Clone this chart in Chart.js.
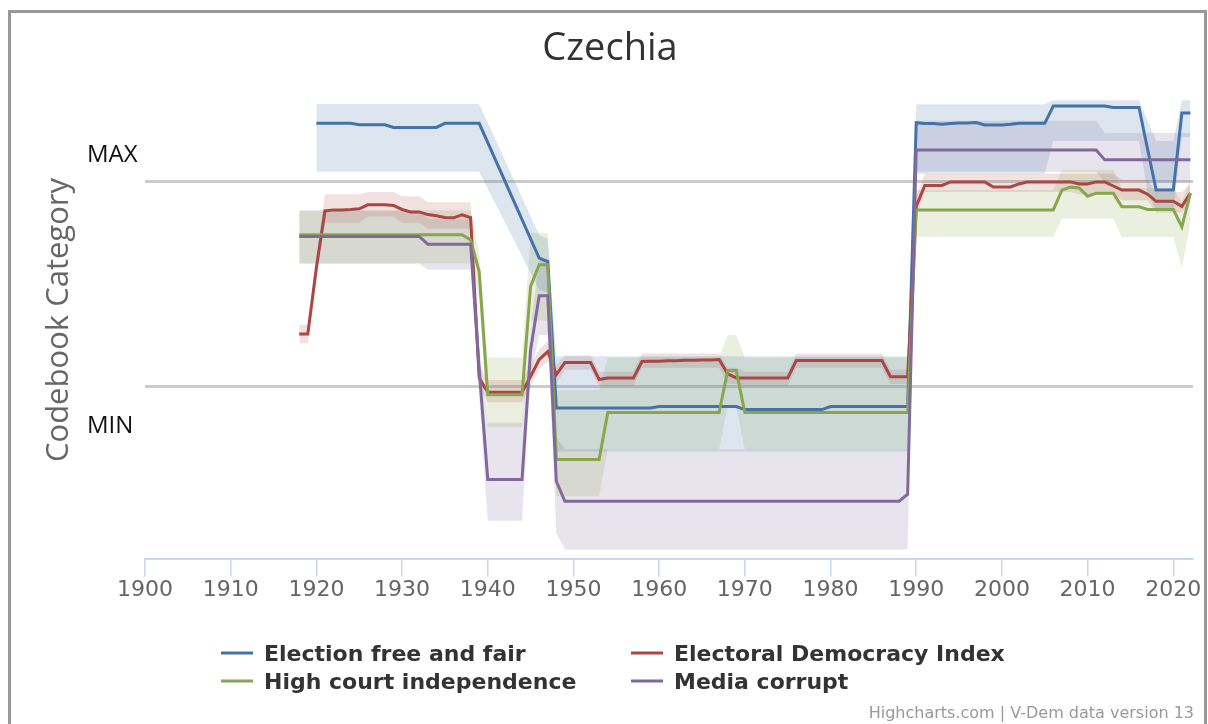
<!DOCTYPE html>
<html>
<head>
<meta charset="utf-8">
<script src="https://cdn.jsdelivr.net/npm/chart.js@4/dist/chart.umd.min.js"></script>
<style>
  html, body { margin: 0; padding: 0; background: #fff; }
  #wrap  { position: relative; width: 1208px; height: 724px; overflow: hidden; }
  #frame { position: absolute; left: 8px; top: 10px; width: 1193px; height: 800px;
           border: 3px solid #999; pointer-events: none; }
</style>
</head>
<body>
<div id="wrap">
  <canvas id="chart"></canvas>
  <div id="frame"></div>
</div>
<script>
// Czechia – V-Dem indicators on a MIN(0) .. MAX(1) codebook scale

const titleText  = "Czechia";
const yTitleText = "Codebook Category";
const creditText = "Highcharts.com | V-Dem data version 13";
const xTicks     = [1900, 1910, 1920, 1930, 1940, 1950, 1960, 1970, 1980, 1990, 2000, 2010, 2020];

const seriesNames  = ["Election free and fair", "Electoral Democracy Index", "High court independence", "Media corrupt"];
const seriesColors = ["#4572A7", "#AA4643", "#89A54E", "#80699B"];
const bandColors   = ["rgba(69,114,167,0.18)", "rgba(170,70,67,0.16)", "rgba(137,165,78,0.18)", "rgba(128,105,155,0.18)"];

// one value per year, 1918 .. 2022
const years = [];
for (let y = 1918; y <= 2022; y++) years.push(y);

const electionFree = [
  null, null,
  1.287, 1.287, 1.287, 1.287, 1.287, 1.280, 1.280, 1.280, 1.280, 1.267,
  1.267, 1.267, 1.267, 1.267, 1.267, 1.287, 1.287, 1.287, 1.287, 1.287,
  null, null, null, null, null, null, 0.627, 0.610, -0.107, -0.107,
  -0.107, -0.107, -0.107, -0.107, -0.107, -0.107, -0.107, -0.107, -0.107, -0.107,
  -0.100, -0.100, -0.100, -0.100, -0.100, -0.100, -0.100, -0.100, -0.100, -0.100,
  -0.115, -0.115, -0.115, -0.115, -0.115, -0.115, -0.115, -0.115, -0.115, -0.115,
  -0.100, -0.100, -0.100, -0.100, -0.100, -0.100, -0.100, -0.100, -0.100, -0.100,
  1.290, 1.286, 1.286, 1.282, 1.286, 1.288, 1.288, 1.291, 1.279, 1.279,
  1.279, 1.282, 1.287, 1.287, 1.287, 1.287, 1.372, 1.372, 1.372, 1.372,
  1.372, 1.372, 1.372, 1.365, 1.365, 1.365, 1.365, 1.160, 0.961, 0.961,
  0.961, 1.337, 1.337
];
const electionFreeHigh = [
  null, null,
  1.382, 1.382, 1.382, 1.382, 1.382, 1.382, 1.382, 1.382, 1.382, 1.382,
  1.382, 1.382, 1.382, 1.382, 1.382, 1.382, 1.382, 1.382, 1.382, 1.382,
  null, null, null, null, null, null, 0.74, 0.72, 0.146, 0.146,
  0.146, 0.146, 0.146, 0.146, 0.146, 0.146, 0.146, 0.146, 0.146, 0.146,
  0.146, 0.146, 0.146, 0.146, 0.146, 0.146, 0.146, 0.146, 0.146, 0.146,
  0.146, 0.146, 0.146, 0.146, 0.146, 0.146, 0.146, 0.146, 0.146, 0.146,
  0.146, 0.146, 0.146, 0.146, 0.146, 0.146, 0.146, 0.146, 0.146, 0.146,
  1.38, 1.38, 1.38, 1.38, 1.38, 1.38, 1.38, 1.38, 1.38, 1.38,
  1.38, 1.38, 1.38, 1.38, 1.38, 1.38, 1.40, 1.40, 1.40, 1.40,
  1.40, 1.40, 1.40, 1.40, 1.40, 1.40, 1.40, 1.30, 1.20, 1.20,
  1.20, 1.40, 1.40
];
const electionFreeLow = [
  null, null,
  1.05, 1.05, 1.05, 1.05, 1.05, 1.05, 1.05, 1.05, 1.05, 1.05,
  1.05, 1.05, 1.05, 1.05, 1.05, 1.05, 1.05, 1.05, 1.05, 1.05,
  null, null, null, null, null, null, 0.47, 0.46, -0.32, -0.32,
  -0.32, -0.32, -0.32, -0.32, -0.32, -0.32, -0.32, -0.32, -0.32, -0.32,
  -0.32, -0.32, -0.32, -0.32, -0.32, -0.32, -0.32, -0.32, -0.32, -0.32,
  -0.32, -0.32, -0.32, -0.32, -0.32, -0.32, -0.32, -0.32, -0.32, -0.32,
  -0.32, -0.32, -0.32, -0.32, -0.32, -0.32, -0.32, -0.32, -0.32, -0.32,
  1.04, 1.04, 1.04, 1.04, 1.04, 1.04, 1.04, 1.04, 1.04, 1.04,
  1.04, 1.04, 1.04, 1.04, 1.04, 1.04, 1.20, 1.20, 1.20, 1.20,
  1.20, 1.20, 1.20, 1.20, 1.20, 1.20, 1.20, 0.95, 0.86, 0.86,
  0.86, 1.22, 1.22
];

const electoralDemocracy = [
  0.255, 0.255,
  0.580, 0.858, 0.863, 0.863, 0.865, 0.868, 0.888, 0.888, 0.888, 0.885,
  0.865, 0.853, 0.853, 0.840, 0.834, 0.826, 0.824, 0.839, 0.825, 0.040,
  -0.030, -0.030, -0.030, -0.030, -0.030, 0.047, 0.130, 0.169, 0.056, 0.115,
  0.115, 0.115, 0.115, 0.032, 0.040, 0.040, 0.040, 0.040, 0.120, 0.122,
  0.122, 0.124, 0.124, 0.126, 0.126, 0.128, 0.128, 0.130, 0.060, 0.040,
  0.039, 0.039, 0.039, 0.039, 0.039, 0.039, 0.125, 0.125, 0.125, 0.125,
  0.125, 0.125, 0.125, 0.125, 0.125, 0.125, 0.125, 0.046, 0.046, 0.046,
  0.880, 0.983, 0.983, 0.983, 1.000, 1.000, 1.000, 1.000, 1.000, 0.975,
  0.975, 0.975, 0.990, 1.000, 1.000, 1.000, 1.000, 1.000, 1.000, 0.990,
  0.990, 1.000, 1.000, 0.980, 0.960, 0.960, 0.960, 0.940, 0.905, 0.905,
  0.905, 0.880, 0.945
];
const electoralDemocracyHigh = [
  0.30, 0.30,
  0.64, 0.94, 0.94, 0.94, 0.94, 0.94, 0.95, 0.95, 0.95, 0.95,
  0.93, 0.93, 0.93, 0.90, 0.90, 0.90, 0.90, 0.90, 0.90, 0.10,
  0.03, 0.03, 0.03, 0.03, 0.03, 0.10, 0.18, 0.22, 0.10, 0.15,
  0.15, 0.15, 0.15, 0.07, 0.07, 0.07, 0.07, 0.07, 0.16, 0.16,
  0.16, 0.16, 0.16, 0.16, 0.16, 0.16, 0.16, 0.16, 0.09, 0.09,
  0.07, 0.07, 0.07, 0.07, 0.07, 0.07, 0.16, 0.16, 0.16, 0.16,
  0.16, 0.16, 0.16, 0.16, 0.16, 0.16, 0.16, 0.08, 0.08, 0.08,
  0.93, 1.04, 1.04, 1.04, 1.04, 1.04, 1.04, 1.04, 1.04, 1.04,
  1.04, 1.04, 1.04, 1.04, 1.04, 1.04, 1.04, 1.04, 1.04, 1.04,
  1.04, 1.04, 1.04, 1.04, 1.01, 1.01, 1.01, 1.01, 0.95, 0.95,
  0.95, 0.95, 0.99
];
const electoralDemocracyLow = [
  0.21, 0.21,
  0.52, 0.80, 0.80, 0.80, 0.80, 0.80, 0.83, 0.83, 0.83, 0.83,
  0.80, 0.80, 0.80, 0.77, 0.77, 0.77, 0.77, 0.77, 0.77, 0.00,
  -0.08, -0.08, -0.08, -0.08, -0.08, 0.00, 0.08, 0.12, 0.01, 0.08,
  0.08, 0.08, 0.08, 0.00, 0.00, 0.00, 0.00, 0.00, 0.09, 0.09,
  0.09, 0.09, 0.09, 0.09, 0.09, 0.09, 0.09, 0.09, 0.01, 0.01,
  0.00, 0.00, 0.00, 0.00, 0.00, 0.00, 0.09, 0.09, 0.09, 0.09,
  0.09, 0.09, 0.09, 0.09, 0.09, 0.09, 0.09, 0.01, 0.01, 0.01,
  0.83, 0.95, 0.95, 0.95, 0.95, 0.95, 0.95, 0.95, 0.95, 0.95,
  0.95, 0.95, 0.95, 0.95, 0.95, 0.95, 0.95, 0.95, 0.95, 0.94,
  0.94, 0.94, 0.94, 0.94, 0.91, 0.91, 0.91, 0.91, 0.85, 0.85,
  0.85, 0.85, 0.90
];

const courtIndependence = [
  0.741, 0.741,
  0.741, 0.741, 0.741, 0.741, 0.741, 0.741, 0.741, 0.741, 0.741, 0.741,
  0.741, 0.741, 0.741, 0.741, 0.741, 0.741, 0.741, 0.741, 0.716, 0.560,
  -0.042, -0.042, -0.042, -0.042, -0.042, 0.488, 0.594, 0.594, -0.359, -0.359,
  -0.359, -0.359, -0.359, -0.359, -0.130, -0.130, -0.130, -0.130, -0.130, -0.130,
  -0.130, -0.130, -0.130, -0.130, -0.130, -0.130, -0.130, -0.130, 0.076, 0.076,
  -0.130, -0.130, -0.130, -0.130, -0.130, -0.130, -0.130, -0.130, -0.130, -0.130,
  -0.130, -0.130, -0.130, -0.130, -0.130, -0.130, -0.130, -0.130, -0.130, -0.130,
  0.863, 0.863, 0.863, 0.863, 0.863, 0.863, 0.863, 0.863, 0.863, 0.863,
  0.863, 0.863, 0.863, 0.863, 0.863, 0.863, 0.863, 0.960, 0.975, 0.970,
  0.930, 0.945, 0.945, 0.945, 0.878, 0.878, 0.878, 0.865, 0.865, 0.865,
  0.865, 0.780, 0.945
];
const courtIndependenceHigh = [
  0.86, 0.86,
  0.86, 0.86, 0.86, 0.86, 0.86, 0.86, 0.86, 0.86, 0.86, 0.86,
  0.86, 0.86, 0.86, 0.86, 0.86, 0.86, 0.86, 0.86, 0.86, 0.65,
  0.14, 0.14, 0.14, 0.14, 0.14, 0.75, 0.75, 0.75, -0.02, -0.02,
  -0.02, -0.02, -0.02, -0.02, 0.14, 0.14, 0.14, 0.14, 0.14, 0.14,
  0.14, 0.14, 0.14, 0.14, 0.14, 0.14, 0.14, 0.14, 0.25, 0.25,
  0.14, 0.14, 0.14, 0.14, 0.14, 0.14, 0.14, 0.14, 0.14, 0.14,
  0.14, 0.14, 0.14, 0.14, 0.14, 0.14, 0.14, 0.14, 0.14, 0.14,
  0.96, 0.96, 0.96, 0.96, 0.96, 0.96, 0.96, 0.96, 0.96, 0.96,
  0.96, 0.96, 0.96, 0.96, 0.96, 0.96, 0.96, 1.06, 1.06, 1.06,
  1.06, 1.06, 1.06, 1.06, 0.97, 0.97, 0.97, 0.97, 0.97, 0.97,
  0.97, 0.90, 1.02
];
const courtIndependenceLow = [
  0.60, 0.60,
  0.60, 0.60, 0.60, 0.60, 0.60, 0.60, 0.60, 0.60, 0.60, 0.60,
  0.60, 0.60, 0.60, 0.60, 0.60, 0.60, 0.60, 0.60, 0.60, 0.42,
  -0.20, -0.20, -0.20, -0.20, -0.20, 0.32, 0.32, 0.32, -0.54, -0.54,
  -0.54, -0.54, -0.54, -0.54, -0.31, -0.31, -0.31, -0.31, -0.31, -0.31,
  -0.31, -0.31, -0.31, -0.31, -0.31, -0.31, -0.31, -0.31, -0.10, -0.10,
  -0.31, -0.31, -0.31, -0.31, -0.31, -0.31, -0.31, -0.31, -0.31, -0.31,
  -0.31, -0.31, -0.31, -0.31, -0.31, -0.31, -0.31, -0.31, -0.31, -0.31,
  0.73, 0.73, 0.73, 0.73, 0.73, 0.73, 0.73, 0.73, 0.73, 0.73,
  0.73, 0.73, 0.73, 0.73, 0.73, 0.73, 0.73, 0.82, 0.82, 0.82,
  0.82, 0.82, 0.82, 0.82, 0.73, 0.73, 0.73, 0.73, 0.73, 0.73,
  0.73, 0.58, 0.80
];

const mediaCorrupt = [
  0.733, 0.733,
  0.733, 0.733, 0.733, 0.733, 0.733, 0.733, 0.733, 0.733, 0.733, 0.733,
  0.733, 0.733, 0.733, 0.695, 0.695, 0.695, 0.695, 0.695, 0.695, 0.080,
  -0.457, -0.457, -0.457, -0.457, -0.457, 0.178, 0.442, 0.442, -0.466, -0.564,
  -0.564, -0.564, -0.564, -0.564, -0.564, -0.564, -0.564, -0.564, -0.564, -0.564,
  -0.564, -0.564, -0.564, -0.564, -0.564, -0.564, -0.564, -0.564, -0.564, -0.564,
  -0.564, -0.564, -0.564, -0.564, -0.564, -0.564, -0.564, -0.564, -0.564, -0.564,
  -0.564, -0.564, -0.564, -0.564, -0.564, -0.564, -0.564, -0.564, -0.564, -0.530,
  1.156, 1.156, 1.156, 1.156, 1.156, 1.156, 1.156, 1.156, 1.156, 1.156,
  1.156, 1.156, 1.156, 1.156, 1.156, 1.156, 1.156, 1.156, 1.156, 1.156,
  1.156, 1.156, 1.108, 1.108, 1.108, 1.108, 1.108, 1.108, 1.108, 1.108,
  1.108, 1.108, 1.108
];
const mediaCorruptHigh = [
  0.86, 0.86,
  0.86, 0.86, 0.86, 0.86, 0.86, 0.86, 0.86, 0.86, 0.86, 0.86,
  0.86, 0.86, 0.86, 0.82, 0.82, 0.82, 0.82, 0.82, 0.82, 0.20,
  -0.18, -0.18, -0.18, -0.18, -0.18, 0.30, 0.62, 0.62, -0.25, -0.31,
  -0.31, -0.31, -0.31, -0.31, -0.31, -0.31, -0.31, -0.31, -0.31, -0.31,
  -0.31, -0.31, -0.31, -0.31, -0.31, -0.31, -0.31, -0.31, -0.31, -0.31,
  -0.31, -0.31, -0.31, -0.31, -0.31, -0.31, -0.31, -0.31, -0.31, -0.31,
  -0.31, -0.31, -0.31, -0.31, -0.31, -0.31, -0.31, -0.31, -0.31, -0.31,
  1.30, 1.30, 1.30, 1.30, 1.30, 1.30, 1.30, 1.30, 1.30, 1.30,
  1.30, 1.30, 1.30, 1.30, 1.30, 1.30, 1.30, 1.30, 1.30, 1.30,
  1.30, 1.30, 1.24, 1.24, 1.24, 1.24, 1.24, 1.24, 1.24, 1.24,
  1.24, 1.24, 1.24
];
const mediaCorruptLow = [
  0.60, 0.60,
  0.60, 0.60, 0.60, 0.60, 0.60, 0.60, 0.60, 0.60, 0.60, 0.60,
  0.60, 0.60, 0.60, 0.57, 0.57, 0.57, 0.57, 0.57, 0.57, -0.05,
  -0.66, -0.66, -0.66, -0.66, -0.66, 0.05, 0.25, 0.25, -0.72, -0.80,
  -0.80, -0.80, -0.80, -0.80, -0.80, -0.80, -0.80, -0.80, -0.80, -0.80,
  -0.80, -0.80, -0.80, -0.80, -0.80, -0.80, -0.80, -0.80, -0.80, -0.80,
  -0.80, -0.80, -0.80, -0.80, -0.80, -0.80, -0.80, -0.80, -0.80, -0.80,
  -0.80, -0.80, -0.80, -0.80, -0.80, -0.80, -0.80, -0.80, -0.80, -0.80,
  1.05, 1.05, 1.05, 1.05, 1.05, 1.05, 1.05, 1.05, 1.05, 1.05,
  1.05, 1.05, 1.05, 1.05, 1.05, 1.05, 1.05, 1.05, 1.05, 1.05,
  1.05, 1.05, 1.00, 1.00, 1.00, 1.00, 1.00, 1.00, 1.00, 1.00,
  1.00, 1.00, 1.00
];

const seriesValues = [electionFree, electoralDemocracy, courtIndependence, mediaCorrupt];
const seriesHigh   = [electionFreeHigh, electoralDemocracyHigh, courtIndependenceHigh, mediaCorruptHigh];
const seriesLow    = [electionFreeLow, electoralDemocracyLow, courtIndependenceLow, mediaCorruptLow];

const toPoints = arr => arr.map((v, i) => ({ x: years[i], y: v }));

const datasets = [];
seriesValues.forEach((vals, s) => {
  // later series sit on top, like the original
  datasets.push({
    label: seriesNames[s],
    data: toPoints(vals),
    borderColor: seriesColors[s],
    borderWidth: 3,
    pointRadius: 0,
    tension: 0,
    fill: false,
    spanGaps: true,
    order: 3 - s
  });
});
seriesHigh.forEach((hi, s) => {
  datasets.push({
    label: seriesNames[s] + " high",
    data: toPoints(hi),
    borderWidth: 0,
    pointRadius: 0,
    backgroundColor: bandColors[s],
    fill: "+1",
    spanGaps: true,
    order: 10 + s
  });
  datasets.push({
    label: seriesNames[s] + " low",
    data: toPoints(seriesLow[s]),
    borderWidth: 0,
    pointRadius: 0,
    fill: false,
    spanGaps: true,
    order: 10 + s
  });
});

const textLayer = {
  id: "textLayer",
  afterDraw(chart) {
    const ctx = chart.ctx;
    const yS  = chart.scales.y;
    ctx.save();

    ctx.fillStyle = "#333";
    ctx.font = "38px 'Open Sans'";
    ctx.textAlign = "center";
    ctx.textBaseline = "alphabetic";
    ctx.fillText(titleText, 610, 60);

    ctx.save();
    ctx.translate(68, 320);
    ctx.rotate(-Math.PI / 2);
    ctx.fillStyle = "#666";
    ctx.font = "31px 'Open Sans'";
    ctx.fillText(yTitleText, 0, 0);
    ctx.restore();

    ctx.fillStyle = "#111";
    ctx.font = "24px 'Open Sans'";
    ctx.textAlign = "left";
    ctx.fillText("MAX", 87, yS.getPixelForValue(1) - 20);
    ctx.fillText("MIN", 87, yS.getPixelForValue(0) + 47);

    // legend, two columns
    const cols = [221, 631];
    const rows = [653, 681];
    ctx.font = "bold 22px 'DejaVu Sans'";
    seriesNames.forEach((name, i) => {
      const x = cols[i % 2], y = rows[Math.floor(i / 2)];
      ctx.strokeStyle = seriesColors[i];
      ctx.lineWidth = 3;
      ctx.beginPath();
      ctx.moveTo(x, y);
      ctx.lineTo(x + 32, y);
      ctx.stroke();
      ctx.fillStyle = "#333";
      ctx.fillText(name, x + 43, y + 8);
    });

    ctx.fillStyle = "#999";
    ctx.font = "16px 'DejaVu Sans'";
    ctx.textAlign = "right";
    ctx.fillText(creditText, 1194, 718);
    ctx.restore();
  }
};

new Chart(document.getElementById("chart"), {
  type: "line",
  data: { datasets },
  plugins: [textLayer],
  options: {
    responsive: true,
    maintainAspectRatio: false,
    animation: false,
    layout: { padding: { left: 145, right: 15, top: 98, bottom: 121 } },
    plugins: {
      legend:  { display: false },
      title:   { display: false },
      tooltip: { enabled: false },
      filler:  { propagate: false }
    },
    scales: {
      x: {
        type: "linear",
        min: 1900,
        max: 2022.3,
        afterBuildTicks: s => { s.ticks = xTicks.map(v => ({ value: v })); },
        ticks: {
          color: "#666",
          font: { family: "'DejaVu Sans'", size: 22 },
          padding: 0,
          maxRotation: 0,
          callback: v => String(v)
        },
        grid: { drawOnChartArea: false, drawTicks: true, tickLength: 18, color: "#ccd6eb", lineWidth: 1.5 },
        border: { color: "#ccd6eb", width: 2 }
      },
      y: {
        min: -0.845,
        max: 1.411,
        afterBuildTicks: s => { s.ticks = [{ value: 0 }, { value: 1 }]; },
        ticks: { display: false },
        grid: { color: "#cccccc", lineWidth: 3, drawTicks: false },
        border: { display: false }
      }
    }
  }
});
</script>
</body>
</html>
